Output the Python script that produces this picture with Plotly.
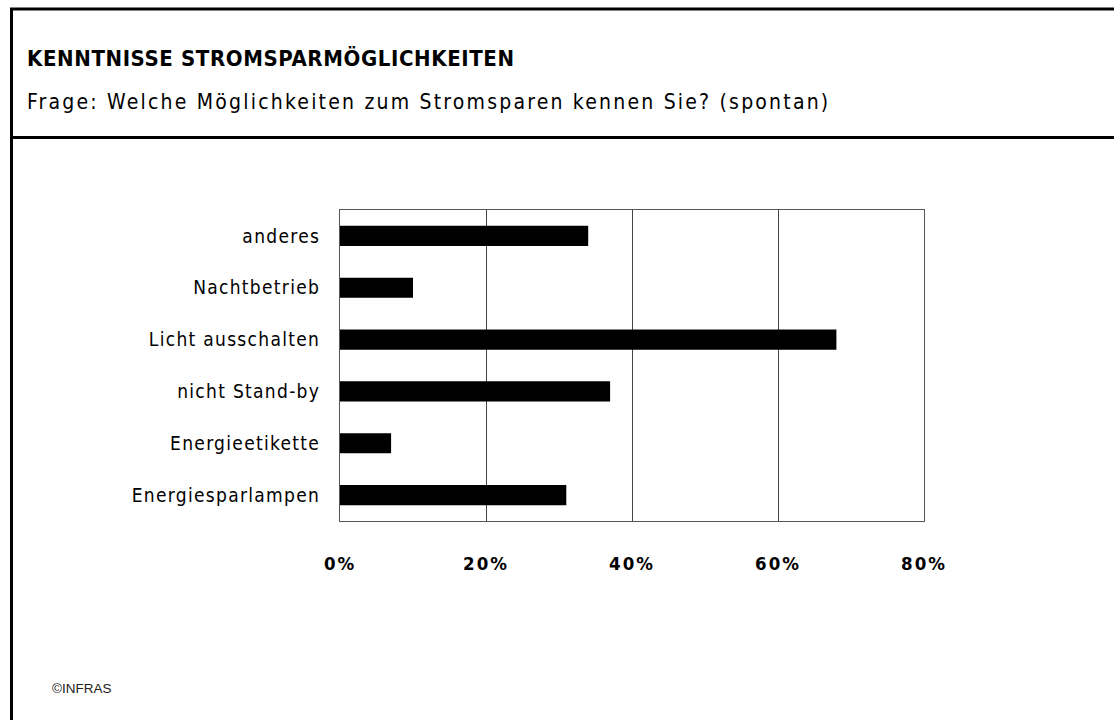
import plotly.graph_objects as go

# Survey answers (share of respondents, %)
categories = ["Energiesparlampen", "Energieetikette", "nicht Stand-by",
              "Licht ausschalten", "Nachtbetrieb", "anderes"]
values = [31, 7, 37, 68, 10, 34]
x_ticks = [0, 20, 40, 60, 80]
x_tick_labels = ["0%", "20%", "40%", "60%", "80%"]

title_text = "KENNTNISSE STROMSPARMÖGLICHKEITEN"
subtitle_text = "Frage: Welche Möglichkeiten zum Stromsparen kennen Sie? (spontan)"
source_text = "©INFRAS"

W, H = 1114, 720
L, R, T, B = 340, 924, 210, 521  # plot area in pixels

FONT = "DejaVu Sans Condensed, DejaVu Sans, sans-serif"


def spaced(s, ls=1.0, bold=False):
    inner = f"<b>{s}</b>" if bold else s
    return f"<span style='letter-spacing:{ls}px'>{inner}</span>"


def px_x(x):
    return (x - L) / (R - L)


def px_y(y):
    return (B - y) / (B - T)


fig = go.Figure(go.Bar(
    y=categories,
    x=values,
    orientation="h",
    width=0.39,
    marker=dict(color="black", line=dict(width=0)),
    hoverinfo="skip",
))

fig.update_layout(
    width=W, height=H,
    margin=dict(l=L, r=W - R, t=T, b=H - B),
    paper_bgcolor="white",
    plot_bgcolor="white",
    showlegend=False,
    font=dict(family=FONT, color="black"),
    xaxis=dict(
        range=[0, 80],
        tickvals=x_ticks,
        ticktext=[spaced(t, 2.0, bold=True) for t in x_tick_labels],
        tickfont=dict(size=18.5, family=FONT),
        showgrid=True, gridcolor="#444444", gridwidth=1,
        showline=True, linecolor="#555555", linewidth=1, mirror=True,
        ticks="", ticklabelstandoff=26,
        zeroline=False, fixedrange=True,
    ),
    yaxis=dict(
        categoryorder="array", categoryarray=categories,
        tickvals=categories,
        ticktext=[spaced(c, 1.3) for c in categories],
        tickfont=dict(size=19, family=FONT),
        showgrid=False,
        showline=True, linecolor="#555555", linewidth=1, mirror=True,
        ticks="", ticklabelstandoff=15,
        zeroline=False, fixedrange=True,
    ),
)

# Frame lines around the header and along the left edge
frame = [
    dict(x0=px_x(11.5), x1=px_x(11.5), y0=px_y(8), y1=px_y(H + 5), w=3),
    dict(x0=px_x(10), x1=px_x(W + 5), y0=px_y(9), y1=px_y(9), w=3),
    dict(x0=px_x(10), x1=px_x(W + 5), y0=px_y(137.5), y1=px_y(137.5), w=3),
]
for f in frame:
    fig.add_shape(type="line", xref="paper", yref="paper",
                  x0=f["x0"], x1=f["x1"], y0=f["y0"], y1=f["y1"],
                  line=dict(color="black", width=f["w"]), layer="above")

fig.add_annotation(text=spaced(title_text, 0.6, bold=True), xref="paper", yref="paper",
                   x=px_x(25), y=px_y(58), xanchor="left", yanchor="middle",
                   showarrow=False, font=dict(size=22, family=FONT))
fig.add_annotation(text=spaced(subtitle_text, 2.2), xref="paper", yref="paper",
                   x=px_x(25), y=px_y(102), xanchor="left", yanchor="middle",
                   showarrow=False, font=dict(size=21, family=FONT))
fig.add_annotation(text=source_text, xref="paper", yref="paper",
                   x=px_x(50), y=px_y(688), xanchor="left", yanchor="middle",
                   showarrow=False,
                   font=dict(size=13.5, family="Liberation Sans, Arial, sans-serif", color="#222222"))

fig.write_html("out.html")
